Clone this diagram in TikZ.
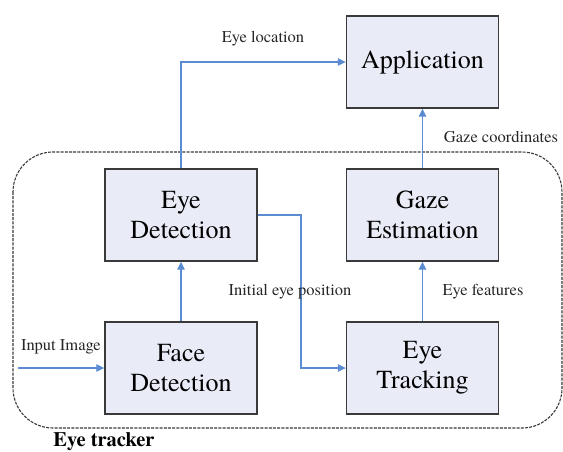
\documentclass[tikz,border=0pt]{standalone}
\usepackage{fontspec}
\setmainfont{texgyretermes}[Extension=.otf, UprightFont=*-regular, BoldFont=*-bold]
\usepackage{tikz}
\usetikzlibrary{positioning}
\usetikzlibrary{arrows.meta}
\definecolor{boxfill}{HTML}{E9ECF7}
\definecolor{flowblue}{HTML}{5B8BD0}
\definecolor{edgegray}{HTML}{3A3A3A}
\tikzset{
  block/.style={draw=edgegray, line width=1.4pt, fill=boxfill, minimum width=152pt,
    minimum height=92pt, inner sep=0pt, align=center, font=\fontsize{26}{30}\selectfont},
  flow/.style={draw=flowblue, line width=1.1pt, -{Triangle[length=8pt,width=7.5pt]}},
  tag/.style={font=\fontsize{16.5}{18}\selectfont, text=black!85, inner sep=0pt}
}

\begin{document}
\begin{tikzpicture}[x=1pt,y=-1pt]
\useasboundingbox (0,0) rectangle (563,451);
% dashed eye tracker frame
\draw[edgegray, line width=1.1pt, dash pattern=on 3pt off 1.2pt, rounded corners=40pt]
  (13,152) rectangle (562,428);
\node[font=\bfseries\fontsize{20.5}{22}\selectfont, inner sep=0pt] (trackerlabel) at (104,442) {Eye tracker};

% blocks
\node[block] (app) at (422.5,62) {Application};
\node[block] (eyedet) at (181,215) {Eye\\Detection};
\node[block] (gaze) at (422.5,215) {Gaze\\Estimation};
\node[block] (facedet) at (181,368) {Face\\Detection};
\node[block] (eyetrack) at (422.5,368) {Eye\\Tracking};

% connectors
\coordinate (imgin) at (18,368);
\draw[flow] (imgin) -- (facedet.west);
\draw[flow] (facedet.north) -- (eyedet.south);
\draw[flow] (eyedet.north) |- (app.west);
\draw[flow] (eyedet.east) -- (301,215) |- (eyetrack.west);
\draw[flow] (eyetrack.north) -- (gaze.south);
\draw[flow] (gaze.north) -- (app.south);

% labels
\node[tag] (lblloc) at (263,39) {Eye location};
\node[tag] (lblgaze) at (501,137) {Gaze coordinates};
\node[tag] (lblinit) at (290,292) {Initial eye position};
\node[tag] (lblfeat) at (483,292) {Eye features};
\node[tag] (lblimg) at (61,347) {Input Image};
\end{tikzpicture}
\end{document}
